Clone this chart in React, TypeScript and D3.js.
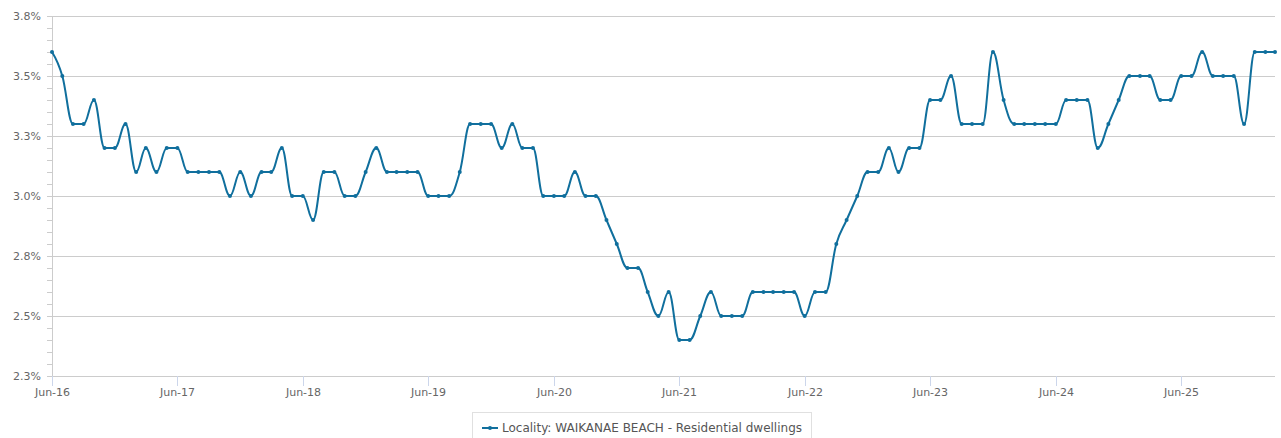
import * as d3 from 'd3';
import { useEffect } from 'react';

const seriesName = 'Locality: WAIKANAE BEACH - Residential dwellings';
const firstMonth = new Date(2016, 5, 1);

// monthly values (%) from Jun-16
const values = [
  3.6, 3.5, 3.3, 3.3, 3.4, 3.2, 3.2, 3.3, 3.1, 3.2, 3.1, 3.2,
  3.2, 3.1, 3.1, 3.1, 3.1, 3.0, 3.1, 3.0, 3.1, 3.1, 3.2, 3.0,
  3.0, 2.9, 3.1, 3.1, 3.0, 3.0, 3.1, 3.2, 3.1, 3.1, 3.1, 3.1,
  3.0, 3.0, 3.0, 3.1, 3.3, 3.3, 3.3, 3.2, 3.3, 3.2, 3.2, 3.0,
  3.0, 3.0, 3.1, 3.0, 3.0, 2.9, 2.8, 2.7, 2.7, 2.6, 2.5, 2.6,
  2.4, 2.4, 2.5, 2.6, 2.5, 2.5, 2.5, 2.6, 2.6, 2.6, 2.6, 2.6,
  2.5, 2.6, 2.6, 2.8, 2.9, 3.0, 3.1, 3.1, 3.2, 3.1, 3.2, 3.2,
  3.4, 3.4, 3.5, 3.3, 3.3, 3.3, 3.6, 3.4, 3.3, 3.3, 3.3, 3.3,
  3.3, 3.4, 3.4, 3.4, 3.2, 3.3, 3.4, 3.5, 3.5, 3.5, 3.4, 3.4,
  3.5, 3.5, 3.6, 3.5, 3.5, 3.5, 3.3, 3.6, 3.6, 3.6,
];

const yTicks = [2.25, 2.5, 2.75, 3.0, 3.25, 3.5, 3.75];
const yTickLabels = ['2.3%', '2.5%', '2.8%', '3.0%', '3.3%', '3.5%', '3.8%'];
const xTickYears = [2016, 2017, 2018, 2019, 2020, 2021, 2022, 2023, 2024, 2025];
const xTickLabels = ['Jun-16', 'Jun-17', 'Jun-18', 'Jun-19', 'Jun-20', 'Jun-21', 'Jun-22', 'Jun-23', 'Jun-24', 'Jun-25'];

const lineColor = '#106f9d';
const font = '"DejaVu Sans", sans-serif';

// Highcharts-style spline: control points pulled toward neighbours, no false extremes
function splinePath(pts: Array<[number, number]>) {
  const path = d3.path();
  const smoothing = 1.5;
  const denom = smoothing + 1;
  let prevRight: [number, number] = pts[0];
  pts.forEach(([x, y], i) => {
    if (i === 0) {
      path.moveTo(x, y);
      return;
    }
    let left: [number, number] = [x, y];
    let right: [number, number] = [x, y];
    if (i < pts.length - 1) {
      const [lx, ly] = pts[i - 1];
      const [nx, ny] = pts[i + 1];
      const lcx = (smoothing * x + lx) / denom;
      let lcy = (smoothing * y + ly) / denom;
      const rcx = (smoothing * x + nx) / denom;
      let rcy = (smoothing * y + ny) / denom;
      let correction = 0;
      if (rcx !== lcx) correction = ((rcy - lcy) * (rcx - x)) / (rcx - lcx) + y - rcy;
      lcy += correction;
      rcy += correction;
      if (lcy > ly && lcy > y) {
        lcy = Math.max(ly, y);
        rcy = 2 * y - lcy;
      } else if (lcy < ly && lcy < y) {
        lcy = Math.min(ly, y);
        rcy = 2 * y - lcy;
      }
      if (rcy > ny && rcy > y) {
        rcy = Math.max(ny, y);
        lcy = 2 * y - rcy;
      } else if (rcy < ny && rcy < y) {
        rcy = Math.min(ny, y);
        lcy = 2 * y - rcy;
      }
      left = [lcx, lcy];
      right = [rcx, rcy];
    }
    path.bezierCurveTo(prevRight[0], prevRight[1], left[0], left[1], x, y);
    prevRight = right;
  });
  return path.toString();
}

export default function App() {
  useEffect(() => {
    document.body.style.margin = '0';
  }, []);

  const width = 1281;
  const height = 438;
  const margin = { top: 16, right: 6, bottom: 62, left: 52 };
  const innerRight = width - margin.right;
  const innerBottom = height - margin.bottom;

  const dates = values.map((_, i) => d3.timeMonth.offset(firstMonth, i));
  const x = d3
    .scaleTime()
    .domain([dates[0], dates[dates.length - 1]])
    .range([margin.left, innerRight]);
  const y = d3.scaleLinear().domain([2.25, 3.75]).range([innerBottom, margin.top]);

  const pts = values.map((v, i) => [x(dates[i]), y(v)] as [number, number]);
  const minorTicks = d3.range(2.25, 3.7501, 0.05);

  return (
    <svg
      width={width}
      height={height}
      style={{ position: 'absolute', left: 0, top: 0, fontFamily: font }}
    >
      <rect width={width} height={height} fill="#ffffff" />
      {yTicks.map((t) => (
        <line
          key={`g${t}`}
          x1={margin.left}
          x2={innerRight}
          y1={Math.round(y(t)) + 0.5}
          y2={Math.round(y(t)) + 0.5}
          stroke="#cccccc"
          strokeWidth={1}
        />
      ))}
      <line x1={margin.left + 0.5} x2={margin.left + 0.5} y1={margin.top} y2={innerBottom} stroke="#cccccc" />
      {minorTicks.map((t) => (
        <line
          key={`m${t.toFixed(2)}`}
          x1={margin.left - 5}
          x2={margin.left}
          y1={Math.round(y(t)) + 0.5}
          y2={Math.round(y(t)) + 0.5}
          stroke="#cccccc"
        />
      ))}
      {yTicks.map((t, i) => (
        <text
          key={`yl${t}`}
          x={41}
          y={y(t) + 4}
          textAnchor="end"
          fontSize={11}
          fill="#666666"
        >
          {yTickLabels[i]}
        </text>
      ))}
      {xTickYears.map((yr, i) => {
        const tx = Math.round(x(new Date(yr, 5, 1))) + 0.5;
        return (
          <g key={`x${yr}`}>
            <line x1={tx} x2={tx} y1={innerBottom} y2={innerBottom + 10} stroke="#ccd6eb" />
            <text x={tx} y={innerBottom + 20} textAnchor="middle" fontSize={11} fill="#666666">
              {xTickLabels[i]}
            </text>
          </g>
        );
      })}
      <path d={splinePath(pts)} fill="none" stroke={lineColor} strokeWidth={2} strokeLinejoin="round" />
      {pts.map(([px, py], i) => (
        <circle key={`p${i}`} cx={px} cy={py} r={2} fill={lineColor} />
      ))}
      <g>
        <rect x={472.5} y={412.5} width={339} height={40} fill="#ffffff" stroke="#e0e0e0" />
        <line x1={482} x2={498} y1={428} y2={428} stroke={lineColor} strokeWidth={2} />
        <circle cx={490} cy={428} r={2} fill={lineColor} />
        <text x={502} y={432} fontSize={12} fill="#555555">
          {seriesName}
        </text>
      </g>
    </svg>
  );
}
